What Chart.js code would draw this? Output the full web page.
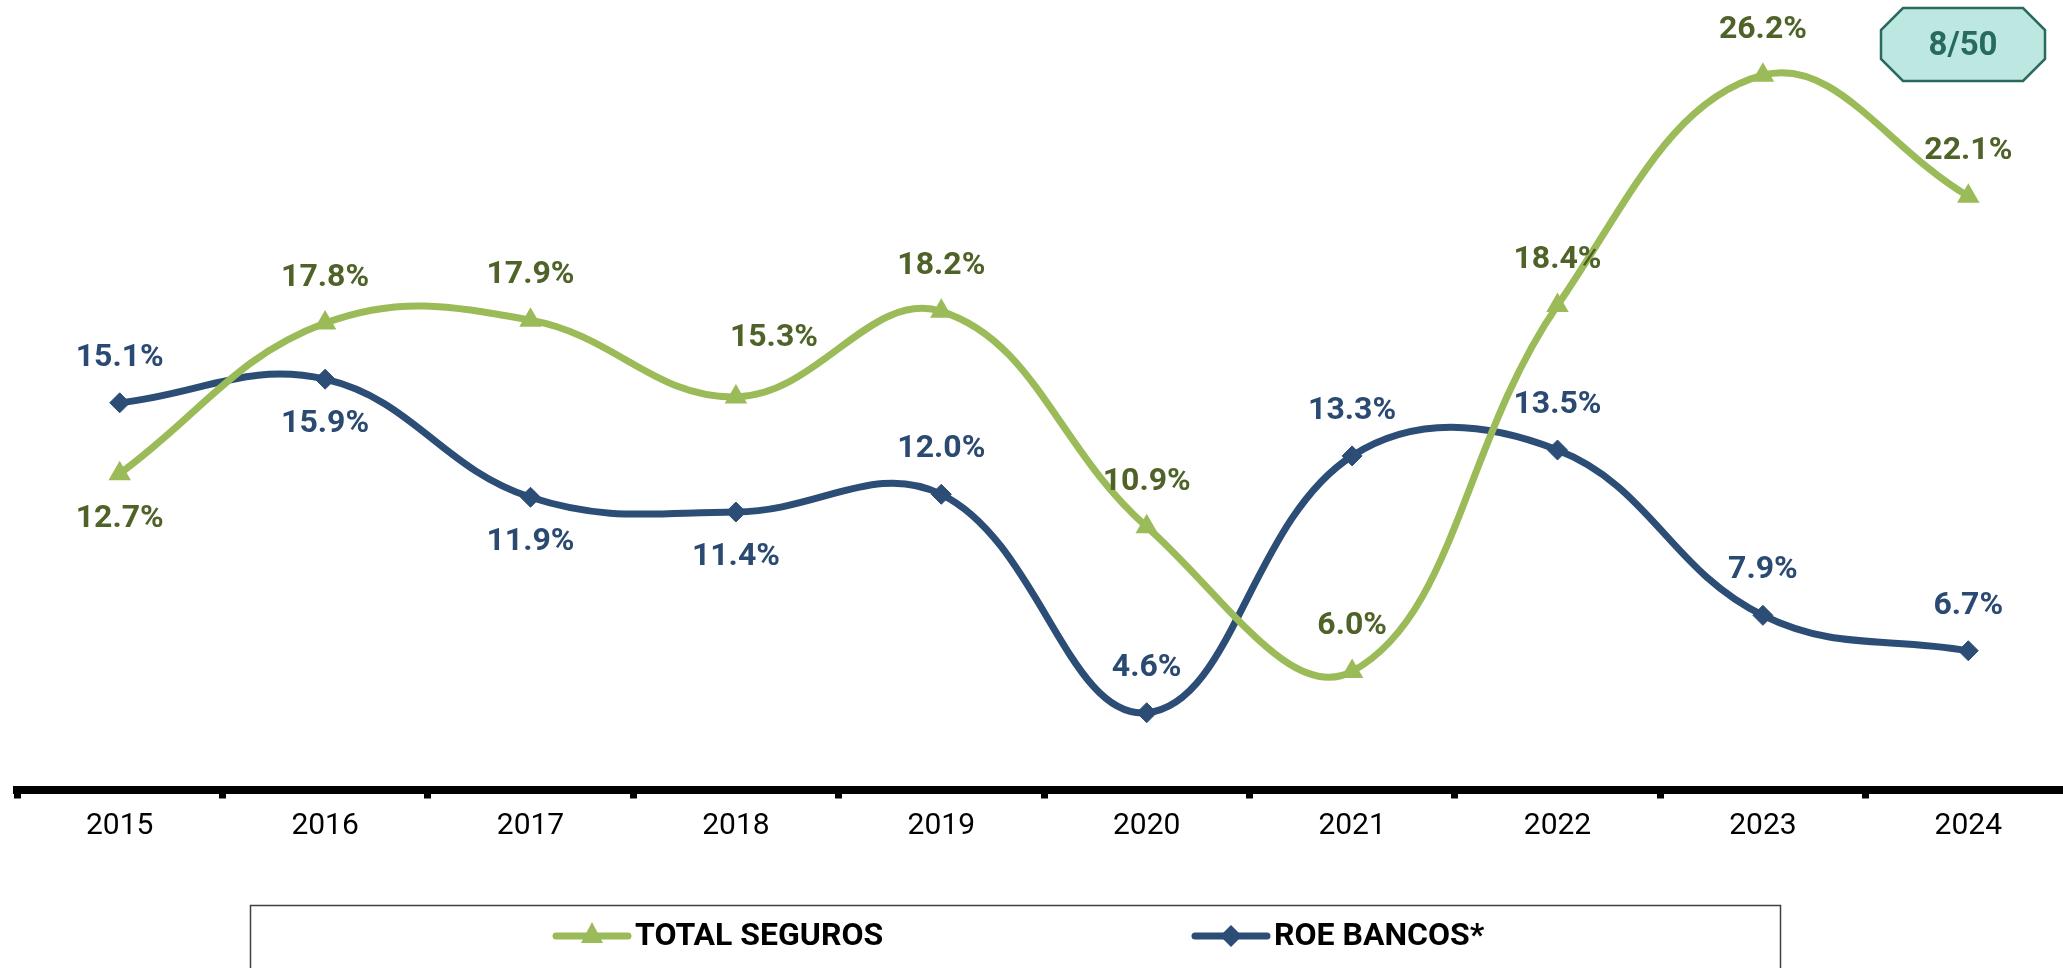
<!DOCTYPE html>
<html>
<head>
<meta charset="utf-8">
<script src="https://cdn.jsdelivr.net/npm/chart.js@4.4.1/dist/chart.umd.min.js"></script>
<style>
  html, body { margin: 0; padding: 0; background: #fff; overflow: hidden; }
  #wrap { width: 2063px; height: 968px; overflow: hidden; }
</style>
</head>
<body>
<div id="wrap"><canvas id="roeChart" width="2084" height="968"></canvas></div>
<script>
// ROE seguros vs bancos, 2015-2024
const years = ['2015', '2016', '2017', '2018', '2019', '2020', '2021', '2022', '2023', '2024'];
const totalSeguros = [12.7, 17.8, 17.9, 15.3, 18.2, 10.9, 6.0, 18.4, 26.2, 22.1];
const roeBancos = [15.1, 15.9, 11.9, 11.4, 12.0, 4.6, 13.3, 13.5, 7.9, 6.7];
const badgeText = '8/50';

// label placement: 1 = above the point, -1 = below
const segurosLabelSide = [-1, 1, 1, 1, 1, 1, 1, 1, 1, 1];
const bancosLabelSide = [1, -1, -1, -1, 1, 1, 1, 1, 1, 1];

const GREEN = '#9BBB59';
const GREEN_TXT = '#4F6228';
const BLUE = '#2C4D75';
const BLUE_TXT = '#2B4A72';

// value labels drawn over the points
const valueLabels = {
  id: 'valueLabels',
  afterDatasetsDraw(chart) {
    const ctx = chart.ctx;
    ctx.save();
    ctx.font = 'bold 32px Roboto';
    ctx.textAlign = 'center';
    ctx.textBaseline = 'middle';
    chart.data.datasets.forEach((ds, i) => {
      const meta = chart.getDatasetMeta(i);
      meta.data.forEach((pt, j) => {
        let dx = 0, dy = -45 * ds.labelSide[j];
        if (i === 0 && j === 3) { dx = 38; dy = -59; }
        ctx.fillStyle = ds.labelColor;
        ctx.fillText(ds.data[j].toFixed(1) + '%', pt.x + dx, pt.y + dy);
      });
    });
    ctx.restore();
  }
};

// boxed legend at the bottom, line + marker + bold name
const boxLegend = {
  id: 'boxLegend',
  afterDraw(chart) {
    const ctx = chart.ctx;
    ctx.save();
    ctx.strokeStyle = '#404040';
    ctx.lineWidth = 1.5;
    ctx.strokeRect(250.5, 905.5, 1530, 120);
    const y = 936;
    const starts = [553, 1192];
    ctx.font = 'bold 32px Roboto';
    ctx.textBaseline = 'middle';
    ctx.textAlign = 'left';
    chart.data.datasets.forEach((ds, i) => {
      const x0 = starts[i];
      ctx.strokeStyle = ds.borderColor;
      ctx.lineWidth = 7;
      ctx.lineCap = 'round';
      ctx.beginPath();
      ctx.moveTo(x0 + 3, y);
      ctx.lineTo(x0 + 75, y);
      ctx.stroke();
      ctx.fillStyle = ds.borderColor;
      const cx = x0 + 39;
      ctx.beginPath();
      if (ds.pointStyle === 'triangle') {
        ctx.moveTo(cx, y - 14);
        ctx.lineTo(cx + 11, y + 7);
        ctx.lineTo(cx - 11, y + 7);
      } else {
        ctx.moveTo(cx, y - 11);
        ctx.lineTo(cx + 11, y);
        ctx.lineTo(cx, y + 11);
        ctx.lineTo(cx - 11, y);
      }
      ctx.closePath();
      ctx.fill();
      ctx.fillStyle = '#000';
      ctx.fillText(ds.label, x0 + 82, y + 1);
    });
    ctx.restore();
  }
};

// ranking badge, top right
const badge = {
  id: 'badge',
  afterDraw(chart) {
    const ctx = chart.ctx;
    const l = 1881, r = 2045, t = 8, b = 81, c = 22;
    ctx.save();
    ctx.beginPath();
    ctx.moveTo(l + c, t);
    ctx.lineTo(r - c, t);
    ctx.lineTo(r, t + c);
    ctx.lineTo(r, b - c);
    ctx.lineTo(r - c, b);
    ctx.lineTo(l + c, b);
    ctx.lineTo(l, b - c);
    ctx.lineTo(l, t + c);
    ctx.closePath();
    ctx.fillStyle = '#BDE7E1';
    ctx.fill();
    ctx.strokeStyle = '#2A6A5E';
    ctx.lineWidth = 2.5;
    ctx.stroke();
    ctx.fillStyle = '#276A5E';
    ctx.font = 'bold 33px Roboto';
    ctx.textAlign = 'center';
    ctx.textBaseline = 'middle';
    ctx.fillText(badgeText, (l + r) / 2, (t + b) / 2 + 2);
    ctx.restore();
  }
};

const ctx = document.getElementById('roeChart').getContext('2d');

const roeChart = new Chart(ctx, {
  type: 'line',
  data: {
    labels: years,
    datasets: [
      {
        label: 'TOTAL SEGUROS',
        data: totalSeguros,
        labelSide: segurosLabelSide,
        labelColor: GREEN_TXT,
        borderColor: GREEN,
        backgroundColor: GREEN,
        borderWidth: 7,
        tension: 0.4,
        pointStyle: 'triangle',
        pointRadius: 13,
        pointBorderWidth: 0,
        clip: false
      },
      {
        label: 'ROE BANCOS*',
        data: roeBancos,
        labelSide: bancosLabelSide,
        labelColor: BLUE_TXT,
        borderColor: BLUE,
        backgroundColor: BLUE,
        borderWidth: 7,
        tension: 0.4,
        pointStyle: 'rectRot',
        pointRadius: 10,
        pointBorderWidth: 1,
        clip: false
      }
    ]
  },
  options: {
    responsive: false,
    animation: false,
    layout: {
      padding: { left: 17, right: 5, top: 22, bottom: 113.5 }
    },
    plugins: {
      legend: { display: false },
      tooltip: { enabled: false }
    },
    scales: {
      x: {
        offset: true,
        border: { display: true, color: '#000', width: 8 },
        grid: {
          offset: true,
          drawOnChartArea: false,
          drawTicks: true,
          tickLength: 9,
          tickColor: '#000',
          tickWidth: 7
        },
        ticks: {
          color: '#000',
          padding: 10,
          font: { family: 'Roboto', size: 30 }
        }
      },
      y: {
        display: false,
        min: 2,
        max: 28
      }
    }
  },
  plugins: [valueLabels, boxLegend, badge]
});
</script>
</body>
</html>
